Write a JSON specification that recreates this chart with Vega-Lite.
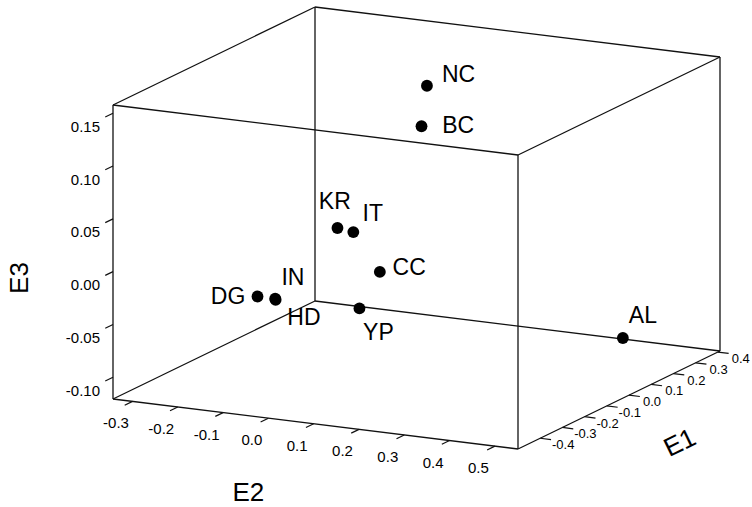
{
  "$schema": "https://vega.github.io/schema/vega-lite/v6.json",
  "width": 752,
  "height": 507,
  "padding": 0,
  "autosize": {"type": "fit", "contains": "padding"},
  "background": "white",
  "config": {"view": {"stroke": null}, "text": {"font": "Liberation Sans", "color": "#000"}},
  "datasets": {
    "points": [
      {"name": "NC", "E1": 0.1, "E2": 0.056, "E3": 0.136},
      {"name": "BC", "E1": 0.1, "E2": 0.044, "E3": 0.097},
      {"name": "KR", "E1": -0.05, "E2": -0.068, "E3": 0.010},
      {"name": "IT", "E1": -0.05, "E2": -0.033, "E3": 0.008},
      {"name": "CC", "E1": 0.0, "E2": 0.001, "E3": -0.033},
      {"name": "DG", "E1": -0.2, "E2": -0.171, "E3": -0.045},
      {"name": "IN", "E1": -0.2, "E2": -0.132, "E3": -0.045},
      {"name": "HD", "E1": -0.2, "E2": -0.131, "E3": -0.046},
      {"name": "YP", "E1": 0.0, "E2": -0.044, "E3": -0.070},
      {"name": "AL", "E1": 0.35, "E2": 0.366, "E3": -0.112}
    ],
    "edges": [
      {"a2": -0.343, "a1": -0.5, "a3": -0.1206, "b2": 0.551, "b1": -0.5, "b3": -0.1206},
      {"a2": -0.343, "a1": -0.5, "a3": 0.1578, "b2": 0.551, "b1": -0.5, "b3": 0.1578},
      {"a2": -0.343, "a1": 0.41, "a3": -0.1206, "b2": 0.551, "b1": 0.41, "b3": -0.1206},
      {"a2": -0.343, "a1": 0.41, "a3": 0.1578, "b2": 0.551, "b1": 0.41, "b3": 0.1578},
      {"a2": -0.343, "a1": -0.5, "a3": -0.1206, "b2": -0.343, "b1": 0.41, "b3": -0.1206},
      {"a2": 0.551, "a1": -0.5, "a3": -0.1206, "b2": 0.551, "b1": 0.41, "b3": -0.1206},
      {"a2": -0.343, "a1": -0.5, "a3": 0.1578, "b2": -0.343, "b1": 0.41, "b3": 0.1578},
      {"a2": 0.551, "a1": -0.5, "a3": 0.1578, "b2": 0.551, "b1": 0.41, "b3": 0.1578},
      {"a2": -0.343, "a1": -0.5, "a3": -0.1206, "b2": -0.343, "b1": -0.5, "b3": 0.1578},
      {"a2": 0.551, "a1": -0.5, "a3": -0.1206, "b2": 0.551, "b1": -0.5, "b3": 0.1578},
      {"a2": -0.343, "a1": 0.41, "a3": -0.1206, "b2": -0.343, "b1": 0.41, "b3": 0.1578},
      {"a2": 0.551, "a1": 0.41, "a3": -0.1206, "b2": 0.551, "b1": 0.41, "b3": 0.1578}
    ],
    "ticks": [
      {"axis": "E2", "v": -0.3, "label": "-0.3"},
      {"axis": "E2", "v": -0.2, "label": "-0.2"},
      {"axis": "E2", "v": -0.1, "label": "-0.1"},
      {"axis": "E2", "v": 0.0, "label": "0.0"},
      {"axis": "E2", "v": 0.1, "label": "0.1"},
      {"axis": "E2", "v": 0.2, "label": "0.2"},
      {"axis": "E2", "v": 0.3, "label": "0.3"},
      {"axis": "E2", "v": 0.4, "label": "0.4"},
      {"axis": "E2", "v": 0.5, "label": "0.5"},
      {"axis": "E1", "v": -0.4, "label": "-0.4"},
      {"axis": "E1", "v": -0.3, "label": "-0.3"},
      {"axis": "E1", "v": -0.2, "label": "-0.2"},
      {"axis": "E1", "v": -0.1, "label": "-0.1"},
      {"axis": "E1", "v": 0.0, "label": "0.0"},
      {"axis": "E1", "v": 0.1, "label": "0.1"},
      {"axis": "E1", "v": 0.2, "label": "0.2"},
      {"axis": "E1", "v": 0.3, "label": "0.3"},
      {"axis": "E1", "v": 0.4, "label": "0.4"},
      {"axis": "E3", "v": -0.10, "label": "-0.10"},
      {"axis": "E3", "v": -0.05, "label": "-0.05"},
      {"axis": "E3", "v": 0.00, "label": "0.00"},
      {"axis": "E3", "v": 0.05, "label": "0.05"},
      {"axis": "E3", "v": 0.10, "label": "0.10"},
      {"axis": "E3", "v": 0.15, "label": "0.15"}
    ]
  },
  "encoding": {
    "x": {"field": "px", "type": "quantitative", "scale": {"domain": [0, 752], "nice": false, "zero": false}, "axis": null},
    "y": {"field": "py", "type": "quantitative", "scale": {"domain": [0, 507], "nice": false, "zero": false, "reverse": true}, "axis": null}
  },
  "layer": [
    {
      "data": {"name": "edges"},
      "transform": [
        {"calculate": "113+405*(datum.a2+0.343)/0.894+202*(datum.a1+0.5)/0.91", "as": "px"},
        {"calculate": "399+50*(datum.a2+0.343)/0.894-98*(datum.a1+0.5)/0.91-294*(datum.a3+0.1206)/0.2784", "as": "py"},
        {"calculate": "113+405*(datum.b2+0.343)/0.894+202*(datum.b1+0.5)/0.91", "as": "px2"},
        {"calculate": "399+50*(datum.b2+0.343)/0.894-98*(datum.b1+0.5)/0.91-294*(datum.b3+0.1206)/0.2784", "as": "py2"}
      ],
      "mark": {"type": "rule", "color": "#111", "strokeWidth": 1.3},
      "encoding": {"x2": {"field": "px2"}, "y2": {"field": "py2"}}
    },
    {
      "data": {"name": "ticks"},
      "transform": [
        {"filter": "datum.axis === 'E2'"},
        {"calculate": "113+405*(datum.v+0.343)/0.894+202*(-0.5+0.5)/0.91", "as": "px"},
        {"calculate": "399+50*(datum.v+0.343)/0.894-98*(-0.5+0.5)/0.91-294*(-0.1206+0.1206)/0.2784", "as": "py"},
        {"calculate": "113+405*(datum.v+0.343)/0.894+202*(-0.535+0.5)/0.91", "as": "px2"},
        {"calculate": "399+50*(datum.v+0.343)/0.894-98*(-0.535+0.5)/0.91-294*(-0.1206+0.1206)/0.2784", "as": "py2"}
      ],
      "layer": [
        {"mark": {"type": "rule", "color": "#111", "strokeWidth": 1.2}, "encoding": {"x2": {"field": "px2"}, "y2": {"field": "py2"}}},
        {"mark": {"type": "text", "fontSize": 15, "align": "center", "baseline": "middle", "dx": -16.5, "dy": 22}, "encoding": {"text": {"field": "label"}}}
      ]
    },
    {
      "data": {"name": "ticks"},
      "transform": [
        {"filter": "datum.axis === 'E1'"},
        {"calculate": "113+405*(0.551+0.343)/0.894+202*(datum.v+0.5)/0.91", "as": "px"},
        {"calculate": "399+50*(0.551+0.343)/0.894-98*(datum.v+0.5)/0.91-294*(-0.1206+0.1206)/0.2784", "as": "py"},
        {"calculate": "113+405*(0.575+0.343)/0.894+202*(datum.v+0.5)/0.91", "as": "px2"},
        {"calculate": "399+50*(0.575+0.343)/0.894-98*(datum.v+0.5)/0.91-294*(-0.1206+0.1206)/0.2784", "as": "py2"}
      ],
      "layer": [
        {"mark": {"type": "rule", "color": "#111", "strokeWidth": 1.2}, "encoding": {"x2": {"field": "px2"}, "y2": {"field": "py2"}}},
        {"mark": {"type": "text", "fontSize": 13, "align": "center", "baseline": "middle", "dx": 23, "dy": 7}, "encoding": {"text": {"field": "label"}}}
      ]
    },
    {
      "data": {"name": "ticks"},
      "transform": [
        {"filter": "datum.axis === 'E3'"},
        {"calculate": "113+405*(-0.343+0.343)/0.894+202*(-0.5+0.5)/0.91", "as": "px"},
        {"calculate": "399+50*(-0.343+0.343)/0.894-98*(-0.5+0.5)/0.91-294*(datum.v+0.1206)/0.2784", "as": "py"},
        {"calculate": "113+405*(-0.343+0.343)/0.894+202*(-0.535+0.5)/0.91", "as": "px2"},
        {"calculate": "399+50*(-0.343+0.343)/0.894-98*(-0.535+0.5)/0.91-294*(datum.v+0.1206)/0.2784", "as": "py2"}
      ],
      "layer": [
        {"mark": {"type": "rule", "color": "#111", "strokeWidth": 1.2}, "encoding": {"x2": {"field": "px2"}, "y2": {"field": "py2"}}},
        {"mark": {"type": "text", "fontSize": 15, "align": "right", "baseline": "middle", "dx": -13, "dy": 13.5}, "encoding": {"text": {"field": "label"}}}
      ]
    },
    {
      "data": {"values": [{"t": "E2", "v": 0}]},
      "transform": [
        {"calculate": "113+405*(datum.v+0.343)/0.894", "as": "px"},
        {"calculate": "399+50*(datum.v+0.343)/0.894", "as": "py"}
      ],
      "mark": {"type": "text", "fontSize": 26, "align": "center", "baseline": "middle", "dx": -20, "dy": 75},
      "encoding": {"text": {"field": "t"}}
    },
    {
      "data": {"values": [{"t": "E1", "v": 0}]},
      "transform": [
        {"calculate": "113+405*(0.551+0.343)/0.894+202*(datum.v+0.5)/0.91", "as": "px"},
        {"calculate": "399+50*(0.551+0.343)/0.894-98*(datum.v+0.5)/0.91", "as": "py"}
      ],
      "mark": {"type": "text", "fontSize": 26, "align": "center", "baseline": "middle", "angle": 334, "dx": 24.8, "dy": 65.5},
      "encoding": {"text": {"field": "t"}}
    },
    {
      "data": {"values": [{"t": "E3", "v": 0}]},
      "transform": [
        {"calculate": "113", "as": "px"},
        {"calculate": "399-294*(datum.v+0.1206)/0.2784", "as": "py"}
      ],
      "mark": {"type": "text", "fontSize": 26, "align": "center", "baseline": "middle", "angle": 270, "dx": -6.4, "dy": -93},
      "encoding": {"text": {"field": "t"}}
    },
    {
      "data": {"name": "points"},
      "transform": [
        {"calculate": "113+405*(datum.E2+0.343)/0.894+202*(datum.E1+0.5)/0.91", "as": "px"},
        {"calculate": "399+50*(datum.E2+0.343)/0.894-98*(datum.E1+0.5)/0.91-294*(datum.E3+0.1206)/0.2784", "as": "py"}
      ],
      "layer": [
        {"mark": {"type": "circle", "size": 140, "color": "#000", "opacity": 1}},
        {"transform": [{"filter": "datum.name === 'NC'"}], "mark": {"type": "text", "fontSize": 23, "align": "center", "baseline": "middle", "dx": 31.6, "dy": -11}, "encoding": {"text": {"field": "name"}}},
        {"transform": [{"filter": "datum.name === 'BC'"}], "mark": {"type": "text", "fontSize": 23, "align": "center", "baseline": "middle", "dx": 36.6, "dy": 0}, "encoding": {"text": {"field": "name"}}},
        {"transform": [{"filter": "datum.name === 'KR'"}], "mark": {"type": "text", "fontSize": 23, "align": "center", "baseline": "middle", "dx": -2.7, "dy": -26}, "encoding": {"text": {"field": "name"}}},
        {"transform": [{"filter": "datum.name === 'IT'"}], "mark": {"type": "text", "fontSize": 23, "align": "center", "baseline": "middle", "dx": 19.4, "dy": -17.7}, "encoding": {"text": {"field": "name"}}},
        {"transform": [{"filter": "datum.name === 'CC'"}], "mark": {"type": "text", "fontSize": 23, "align": "center", "baseline": "middle", "dx": 29.3, "dy": -3.4}, "encoding": {"text": {"field": "name"}}},
        {"transform": [{"filter": "datum.name === 'DG'"}], "mark": {"type": "text", "fontSize": 23, "align": "center", "baseline": "middle", "dx": -29.4, "dy": 0.7}, "encoding": {"text": {"field": "name"}}},
        {"transform": [{"filter": "datum.name === 'IN'"}], "mark": {"type": "text", "fontSize": 23, "align": "center", "baseline": "middle", "dx": 17.7, "dy": -20.6}, "encoding": {"text": {"field": "name"}}},
        {"transform": [{"filter": "datum.name === 'HD'"}], "mark": {"type": "text", "fontSize": 23, "align": "center", "baseline": "middle", "dx": 28.3, "dy": 18.4}, "encoding": {"text": {"field": "name"}}},
        {"transform": [{"filter": "datum.name === 'YP'"}], "mark": {"type": "text", "fontSize": 23, "align": "center", "baseline": "middle", "dx": 19, "dy": 25}, "encoding": {"text": {"field": "name"}}},
        {"transform": [{"filter": "datum.name === 'AL'"}], "mark": {"type": "text", "fontSize": 23, "align": "center", "baseline": "middle", "dx": 20, "dy": -21.6}, "encoding": {"text": {"field": "name"}}}
      ]
    }
  ]
}
